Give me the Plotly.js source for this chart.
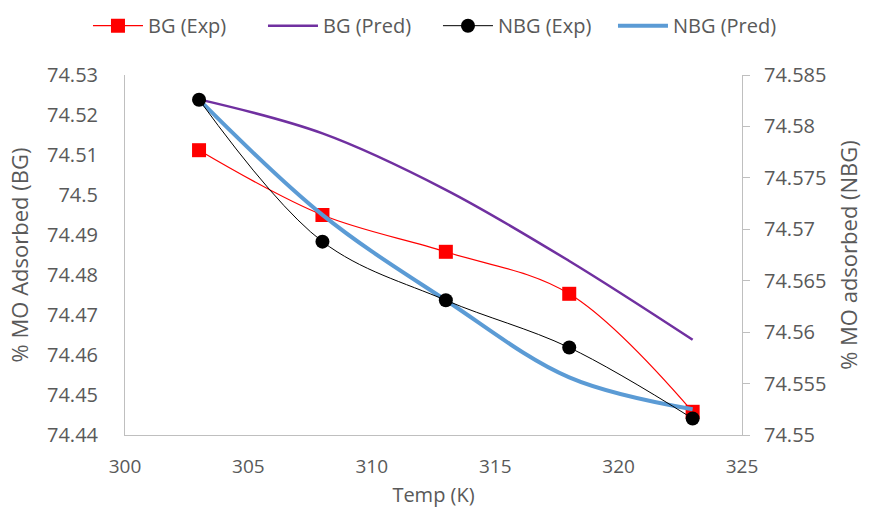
<!DOCTYPE html>
<html>
<head>
<meta charset="utf-8">
<script src="https://cdn.plot.ly/plotly-3.0.1.min.js"></script>
<style>html,body{margin:0;padding:0;background:#fff;}#chart{width:873px;height:515px;}</style>
</head>
<body>
<div id="chart"></div>
<script>
// Temperature (K)
const temp = [303, 308, 313, 318, 323];
// % MO adsorbed, BG (left axis)
const bgExp  = [74.5112, 74.4950, 74.4858, 74.4753, 74.4458];
const bgPred = [74.5239, 74.5154, 74.5013, 74.4835, 74.4638];
// % MO adsorbed, NBG (right axis)
const nbgExp  = [74.5826, 74.5688, 74.5631, 74.5585, 74.5516];
const nbgPred = [74.5826, 74.5714, 74.5631, 74.5556, 74.5525];

const FONT = "Open Sans, sans-serif";
const GREY = "#595959";

const traces = [
  {x: temp, y: bgExp, name: "BG (Exp)", mode: "lines+markers", yaxis: "y",
   line: {color: "#ff0000", width: 1.2, shape: "spline", smoothing: 1},
   marker: {symbol: "square", size: 14, color: "#ff0000"}, legendrank: 1},
  {x: temp, y: bgPred, name: "BG (Pred)", mode: "lines", yaxis: "y",
   line: {color: "#7030a0", width: 2.5, shape: "spline", smoothing: 1}, legendrank: 2},
  {x: temp, y: nbgPred, name: "NBG (Pred)", mode: "lines", yaxis: "y2",
   line: {color: "#5b9bd5", width: 4, shape: "spline", smoothing: 1}, legendrank: 4},
  {x: temp, y: nbgExp, name: "NBG (Exp)", mode: "lines+markers", yaxis: "y2",
   line: {color: "#000000", width: 1, shape: "spline", smoothing: 1},
   marker: {symbol: "circle", size: 14, color: "#000000"}, legendrank: 3}
];

const layout = {
  width: 873, height: 515,
  margin: {l: 125, r: 131, t: 75, b: 80, autoexpand: false},
  paper_bgcolor: "#ffffff", plot_bgcolor: "#ffffff",
  font: {family: FONT, size: 19, color: GREY},
  showlegend: true,
  legend: {orientation: "h", x: -0.06, xanchor: "left", y: 1.137, yanchor: "middle",
           font: {family: FONT, size: 20, color: GREY}, itemwidth: 50, traceorder: "normal",
           entrywidth: 110, entrywidthmode: "pixels"},
  xaxis: {range: [300, 325], dtick: 5, tick0: 300, showgrid: false, zeroline: false,
          showline: true, linecolor: "#bfbfbf", linewidth: 1, ticks: "",
          ticklabelstandoff: 14, automargin: false,
          title: {text: "Temp (K)", font: {family: FONT, size: 20, color: GREY}, standoff: 10}},
  yaxis: {range: [74.44, 74.53], dtick: 0.01, tick0: 74.44, showgrid: false, zeroline: false,
          showline: true, linecolor: "#bfbfbf", linewidth: 1, ticks: "",
          ticklabelstandoff: 22, tickfont: {size: 20}, automargin: false,
          title: {text: "% MO Adsorbed (BG)", font: {family: FONT, size: 22, color: GREY}, standoff: 12}},
  yaxis2: {range: [74.55, 74.585], dtick: 0.005, tick0: 74.55, overlaying: "y", side: "right",
           showgrid: false, zeroline: false, showline: true, linecolor: "#bfbfbf", linewidth: 1,
           ticks: "outside", ticklen: 7, tickcolor: "#bfbfbf", ticklabelstandoff: 10, tickfont: {size: 20},
           automargin: false,
           title: {text: "% MO adsorbed (NBG)", font: {family: FONT, size: 22, color: GREY}, standoff: 16}}
};

Plotly.newPlot("chart", traces, layout, {displayModeBar: false, staticPlot: true});
</script>
</body>
</html>
